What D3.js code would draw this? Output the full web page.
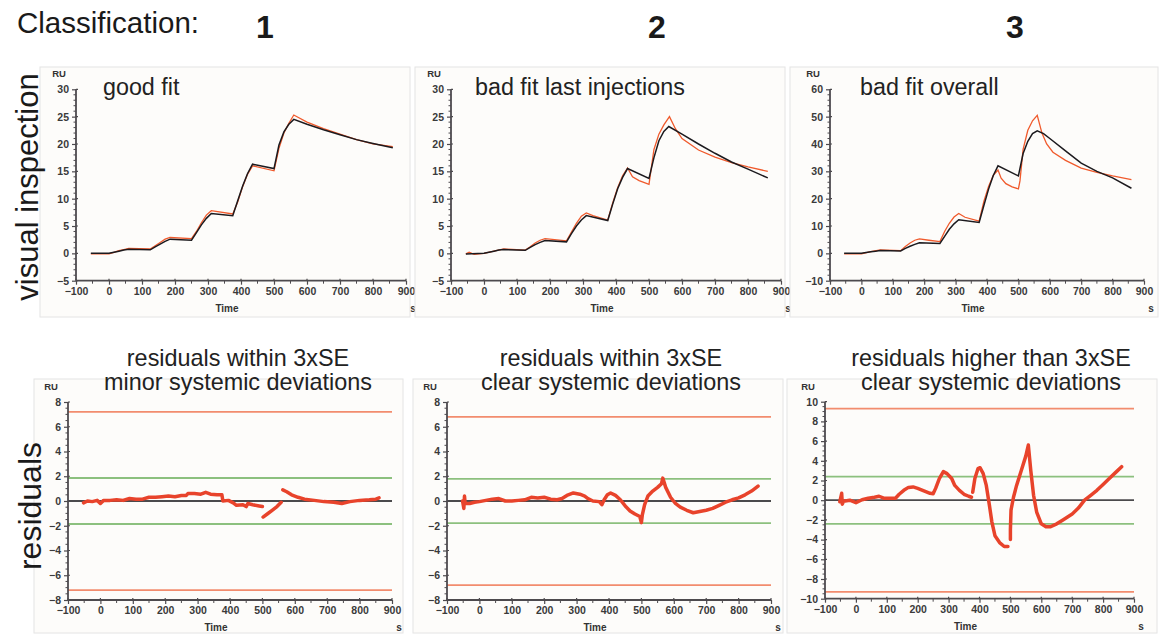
<!DOCTYPE html>
<html><head><meta charset="utf-8">
<script src="https://cdn.jsdelivr.net/npm/d3@7"></script>
<style>
html,body{margin:0;padding:0;background:#fff;}
svg text{font-family:"Liberation Sans",Arial,sans-serif;}
</style></head>
<body><svg id="c" width="1160" height="635"></svg>
<script>
// ---------- DATA ----------
const classes = ["1","2","3"];
const topTitles = ["good fit","bad fit last injections","bad fit overall"];
const botTitles = [["residuals within 3xSE","minor systemic deviations"],
                   ["residuals within 3xSE","clear systemic deviations"],
                   ["residuals higher than 3xSE","clear systemic deviations"]];
const xTicks = [-100,0,100,200,300,400,500,600,700,800,900];
const yTicksTop = [[-5,0,5,10,15,20,25,30],[-5,0,5,10,15,20,25,30],[-10,0,10,20,30,40,50,60]];
const yTicksBot = [[-8,-6,-4,-2,0,2,4,6,8],[-8,-6,-4,-2,0,2,4,6,8],[-10,-8,-6,-4,-2,0,2,4,6,8,10]];
const redLimits = [7.2, 6.8, 9.3];
const greenLimits = [1.86, 1.78, 2.4];

// fitted curves (black)
const fit1 = [[-55,0],[0,0],[15,0.2],[30,0.4],[45,0.6],[60,0.75],[125,0.65],[140,1.2],[155,1.7],[170,2.2],[185,2.6],[250,2.4],[265,3.8],[280,5.2],[295,6.4],[310,7.3],[375,6.9],[390,9.6],[405,12.3],[420,14.6],[435,16.3],[500,15.5],[515,19.8],[530,22.2],[545,23.6],[560,24.5],[600,23.6],[650,22.6],[700,21.7],[750,20.8],[800,20.1],[860,19.3]];
const fit2 = [[-55,-0.1],[0,0],[15,0.2],[30,0.4],[45,0.6],[60,0.7],[125,0.55],[140,1.1],[155,1.6],[170,2.0],[185,2.35],[250,2.1],[265,3.6],[280,5.0],[295,6.1],[310,6.9],[375,6.0],[390,9.0],[405,11.8],[420,13.9],[435,15.5],[500,13.7],[515,17.5],[530,20.6],[545,22.3],[560,23.2],[600,21.8],[650,20.0],[700,18.3],[750,16.7],[800,15.4],[860,13.8]];
const fit3 = [[-55,0],[0,0],[15,0.3],[30,0.6],[45,0.8],[60,1.0],[125,0.9],[140,1.8],[155,2.6],[170,3.3],[185,3.9],[250,3.6],[265,6.2],[280,8.8],[295,10.8],[310,12.3],[375,11.3],[390,17.5],[405,23.5],[420,28.5],[435,32.0],[500,28.3],[515,36.5],[530,41.0],[545,43.8],[560,44.8],[580,43.8],[600,42.0],[650,37.5],[700,33.0],[750,30.0],[800,27.6],[860,23.8]];
// measured curves (red)
const dat1 = [[-55,-0.1],[0,-0.1],[15,0.2],[30,0.5],[45,0.7],[60,0.9],[125,0.8],[140,1.4],[155,2.0],[170,2.6],[185,2.9],[250,2.7],[265,4.0],[280,5.6],[295,7.0],[310,7.8],[375,7.2],[390,9.4],[405,12.2],[420,14.5],[435,16.0],[500,15.1],[515,19.2],[530,22.0],[545,23.8],[560,25.3],[600,24.0],[650,22.8],[700,21.8],[750,20.8],[800,20.0],[860,19.5]];
const dat2 = [[-55,-0.1],[-45,0.2],[-30,-0.2],[0,0],[30,0.4],[60,0.8],[125,0.6],[140,1.2],[155,1.9],[170,2.4],[185,2.7],[250,2.3],[265,3.9],[280,5.5],[295,6.8],[310,7.4],[330,6.9],[375,6.1],[390,9.2],[405,12.0],[420,14.2],[435,15.6],[450,14.0],[470,13.3],[500,12.6],[515,19.0],[530,21.8],[545,23.5],[562,25.0],[580,22.8],[600,21.0],[650,18.9],[700,17.6],[750,16.6],[800,15.8],[860,15.0]];
const dat3 = [[-55,-0.2],[0,-0.2],[30,0.6],[60,1.3],[125,1.0],[140,2.5],[155,3.8],[170,4.8],[185,5.3],[215,4.8],[250,4.3],[265,8.0],[280,11.0],[295,13.3],[310,14.6],[330,13.2],[375,11.8],[390,19.0],[405,24.5],[420,28.5],[435,30.5],[445,27.5],[460,25.5],[480,24.3],[500,23.6],[505,26.5],[515,38.0],[530,45.0],[545,48.5],[560,50.5],[575,44.0],[590,40.0],[610,37.0],[650,34.0],[700,31.2],[750,29.6],[800,28.3],[860,27.0]];
// residuals (null breaks the trace)
const res1 = [[-52,-0.15],[-40,0.0],[-25,-0.05],[-10,0.05],[0,-0.2],[10,0.05],[30,0.05],[50,0.1],[70,0.05],[90,0.2],[110,0.15],[130,0.15],[150,0.3],[170,0.3],[190,0.35],[210,0.4],[230,0.35],[250,0.45],[265,0.45],[270,0.6],[290,0.6],[310,0.55],[325,0.7],[340,0.55],[360,0.5],[375,0.5],[378,0.0],[395,0.05],[410,-0.15],[420,-0.35],[440,-0.3],[450,-0.45],[455,-0.2],[470,-0.3],[490,-0.4],[500,-0.45],[500,null],[502,-1.3],[515,-1.05],[530,-0.75],[545,-0.45],[558,-0.1],[558,null],[563,0.9],[575,0.75],[590,0.5],[610,0.3],[630,0.15],[660,0.05],[690,-0.05],[720,-0.1],[745,-0.2],[770,-0.05],[800,0.05],[830,0.1],[850,0.15],[860,0.25]];
const res2 = [[-52,0.0],[-48,-0.6],[-46,0.4],[-44,-0.2],[-30,-0.2],[-15,-0.1],[0,-0.05],[20,0.05],[40,0.15],[60,0.2],[80,0.0],[100,0.0],[120,0.05],[140,0.1],[160,0.3],[180,0.25],[200,0.3],[220,0.15],[240,0.1],[255,0.2],[270,0.45],[290,0.65],[310,0.55],[325,0.4],[335,0.2],[350,0.0],[370,-0.05],[378,-0.3],[385,0.1],[395,0.5],[405,0.65],[420,0.45],[435,0.1],[450,-0.4],[465,-0.8],[480,-1.05],[495,-1.25],[500,-1.75],[503,-1.1],[510,-0.3],[520,0.4],[535,0.8],[550,1.1],[562,1.4],[566,1.85],[575,1.1],[590,0.3],[605,-0.2],[620,-0.5],[640,-0.75],[660,-0.95],[680,-0.85],[700,-0.75],[720,-0.6],[740,-0.35],[760,-0.1],[780,0.1],[800,0.25],[820,0.5],[840,0.8],[860,1.2]];
const res3 = [[-52,-0.15],[-46,0.7],[-44,-0.4],[-40,-0.1],[-20,0.0],[0,-0.25],[20,0.05],[40,0.2],[60,0.3],[75,0.4],[90,0.2],[110,0.2],[128,0.2],[140,0.6],[155,1.0],[170,1.3],[185,1.35],[200,1.2],[220,0.95],[240,0.7],[250,0.65],[258,1.2],[270,2.2],[283,2.9],[295,2.7],[310,2.2],[320,1.5],[335,1.0],[350,0.6],[365,0.4],[374,0.3],[374,null],[378,0.8],[385,2.2],[395,3.2],[402,3.3],[412,2.7],[422,1.5],[432,-0.5],[440,-2.2],[450,-3.6],[465,-4.3],[480,-4.7],[492,-4.7],[492,null],[500,-4.0],[500,-3.0],[502,-1.0],[510,0.3],[520,1.5],[535,3.0],[550,4.5],[558,5.6],[566,3.0],[575,0.5],[585,-1.2],[600,-2.4],[615,-2.7],[630,-2.7],[650,-2.4],[670,-2.0],[700,-1.4],[720,-0.8],[740,0.0],[760,0.5],[780,1.0],[800,1.6],[820,2.2],[840,2.8],[860,3.4]];

const fits = [fit1, fit2, fit3];
const dats = [dat1, dat2, dat3];
const ress = [res1, res2, res3];

// ---------- LAYOUT ----------
const svg = d3.select("#c");
const FONT = '"Liberation Sans",Arial,sans-serif';
const axisCol = "#4d4a4e";

const topPanels = [
  {box:[40,67,410,317], x:[76,406], y:[280.7,89.3], dom:[-5,30], minor:1},
  {box:[415,67,785,317], x:[451,781], y:[280.7,89.3], dom:[-5,30], minor:1},
  {box:[790,67,1158,317], x:[830,1144], y:[280.7,89.3], dom:[-10,60], minor:2}
];
const botPanels = [
  {box:[34,379,403,633], x:[68,392], y:[600,402], dom:[-8,8], minor:0.5},
  {box:[413,379,783,633], x:[447,771], y:[600,402], dom:[-8,8], minor:0.5},
  {box:[787,379,1157,633], x:[825,1134], y:[598.7,401.7], dom:[-10,10], minor:0.5}
];
const botTitleX = [238, 611, 991];

function drawPanel(p){
  const g = svg.append("g");
  g.append("rect").attr("x",p.box[0]).attr("y",p.box[1]).attr("width",p.box[2]-p.box[0]).attr("height",p.box[3]-p.box[1])
    .attr("fill","#fdfcfa").attr("stroke","#e4e4e4").attr("stroke-width",1);
  const x = d3.scaleLinear().domain([-100,900]).range(p.x);
  const y = d3.scaleLinear().domain(p.dom).range(p.y);
  return {g,x,y};
}

function drawAxes(g,x,y,p,yTicks){
  const yAx = d3.axisLeft(y).tickValues(yTicks).tickSize(4).tickPadding(3);
  const ya = g.append("g").attr("transform",`translate(${p.x[0]},0)`).call(yAx);
  const minorY = d3.range(p.dom[0], p.dom[1]+1e-9, p.minor).filter(v=>!yTicks.some(t=>Math.abs(t-v)<1e-9));
  g.append("g").selectAll("line").data(minorY).join("line")
    .attr("x1",p.x[0]-2.5).attr("x2",p.x[0]).attr("y1",d=>y(d)).attr("y2",d=>y(d))
    .attr("stroke",axisCol).attr("stroke-width",1);
  g.append("g").selectAll("line").data(yTicks).join("line")
    .attr("x1",p.x[0]).attr("x2",p.x[0]+2).attr("y1",d=>y(d)).attr("y2",d=>y(d))
    .attr("stroke",axisCol).attr("stroke-width",1.2);
  const xAx = d3.axisBottom(x).tickValues(xTicks).tickSize(4).tickPadding(3);
  const xa = g.append("g").attr("transform",`translate(0,${p.y[0]})`).call(xAx);
  const minorX = d3.range(-50,900,100);
  g.append("g").selectAll("line").data(minorX).join("line")
    .attr("x1",d=>x(d)).attr("x2",d=>x(d)).attr("y1",p.y[0]).attr("y2",p.y[0]+3)
    .attr("stroke",axisCol).attr("stroke-width",1);
  g.append("g").selectAll("line").data(xTicks).join("line")
    .attr("x1",d=>x(d)).attr("x2",d=>x(d)).attr("y1",p.y[0]-2).attr("y2",p.y[0])
    .attr("stroke",axisCol).attr("stroke-width",1.2);
  [ya,xa].forEach(a=>{
    a.select(".domain").attr("stroke",axisCol).attr("stroke-width",1.8);
    a.selectAll(".tick line").attr("stroke",axisCol).attr("stroke-width",1.2);
    a.selectAll(".tick text").attr("font-family",FONT).attr("font-size",10.5).attr("font-weight","bold").attr("fill","#3a3a3a");
  });
  ya.select(".domain").attr("d",`M0,${p.y[0]}V${p.y[1]}`);
  xa.select(".domain").attr("d",`M${p.x[0]},0H${p.x[1]}`);
  g.append("text").attr("x",p.x[0]-17).attr("y",p.y[1]-12).attr("text-anchor","middle")
    .attr("font-size",9.5).attr("font-weight","bold").attr("fill","#333").text("RU");
  const cx = (p.x[0]+p.x[1])/2 - 14;
  g.append("text").attr("x",cx).attr("y",p.y[0]+31).attr("text-anchor","middle")
    .attr("font-size",10).attr("font-weight","bold").attr("fill","#333").text("Time");
  g.append("text").attr("x",p.x[1]+7).attr("y",p.y[0]+31).attr("text-anchor","middle")
    .attr("font-size",10).attr("font-weight","bold").attr("fill","#333").text("s");
}

// top row
topPanels.forEach((p,i)=>{
  const {g,x,y} = drawPanel(p);
  const line = d3.line().x(d=>x(d[0])).y(d=>y(d[1]));
  g.append("path").datum(dats[i]).attr("d",line).attr("fill","none").attr("stroke","#f05a2c").attr("stroke-width",1.3);
  g.append("path").datum(fits[i]).attr("d",line).attr("fill","none").attr("stroke","#1c1a1e").attr("stroke-width",1.5);
  drawAxes(g,x,y,p,yTicksTop[i]);
  g.append("text").attr("x",p.x[0]+(i===0?27:i===1?24:30)).attr("y",95).attr("font-size",23.3).attr("fill","#222").text(topTitles[i]);
});

// bottom row
botPanels.forEach((p,i)=>{
  const {g,x,y} = drawPanel(p);
  const hl = (v,col,w)=>g.append("line").attr("x1",p.x[0]).attr("x2",p.x[1]).attr("y1",y(v)).attr("y2",y(v)).attr("stroke",col).attr("stroke-width",w);
  hl(redLimits[i],"#f28c6e",1.8); hl(-redLimits[i],"#f28c6e",1.8);
  hl(greenLimits[i],"#8cc07e",1.8); hl(-greenLimits[i],"#8cc07e",1.8);
  hl(0,"#4b4a4c",1.8);
  const line = d3.line().defined(d=>d[1]!==null).x(d=>x(d[0])).y(d=>y(d[1]));
  g.append("path").datum(ress[i]).attr("d",line).attr("fill","none").attr("stroke","#e8432b")
    .attr("stroke-width",3.5).attr("stroke-linejoin","round").attr("stroke-linecap","round");
  drawAxes(g,x,y,p,yTicksBot[i]);
  g.append("text").attr("x",botTitleX[i]).attr("y",366).attr("text-anchor","middle").attr("font-size",23.4).attr("fill","#222").text(botTitles[i][0]);
  g.append("text").attr("x",botTitleX[i]).attr("y",390).attr("text-anchor","middle").attr("font-size",23.4).attr("fill","#222").text(botTitles[i][1]);
});

// header and row labels (on top)
svg.append("text").attr("x",17).attr("y",33).attr("font-size",29.5).attr("fill","#1a1a1a").text("Classification:");
const classX = [265, 657, 1015];
classes.forEach((c,i)=>{
  svg.append("text").attr("x",classX[i]).attr("y",38).attr("text-anchor","middle")
    .attr("font-size",32).attr("font-weight","bold").attr("fill","#1a1a1a").text(c);
});
svg.append("text").attr("transform","translate(38,187) rotate(-90)").attr("text-anchor","middle")
  .attr("font-size",31).attr("fill","#1a1a1a").text("visual inspection");
svg.append("text").attr("transform","translate(41,506) rotate(-90)").attr("text-anchor","middle")
  .attr("font-size",32).attr("fill","#1a1a1a").text("residuals");
</script></body></html>
